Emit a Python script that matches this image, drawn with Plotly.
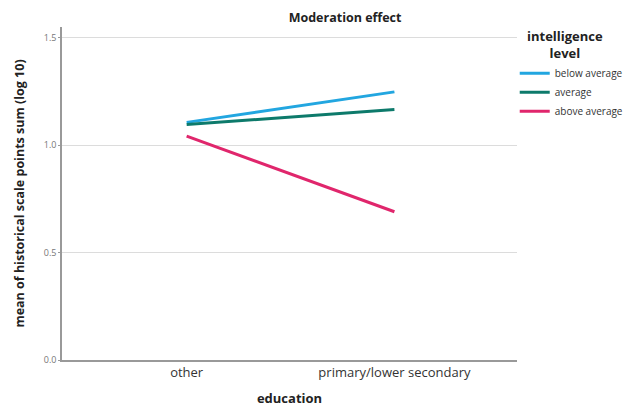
import plotly.graph_objects as go

categories = ["other", "primary/lower secondary"]
series_names = ["below average", "average", "above average"]
below_average = [1.106, 1.248]
average = [1.096, 1.166]
above_average = [1.042, 0.690]
y_ticks = [0.0, 0.5, 1.0, 1.5]
y_tick_labels = ["0.0", "0.5", "1.0", "1.5"]
legend_title = "intelligence<br>level"

colors = ["#22a6e0", "#0d7a6b", "#e0266c"]
values = [below_average, average, above_average]

fig = go.Figure()
for name, vals, c in zip(series_names, values, colors):
    fig.add_trace(go.Scatter(x=[0, 1], y=vals, mode="lines", name=name,
                             line=dict(color=c, width=3)))

font_family = "Open Sans, sans-serif"
fig.update_layout(
    width=632, height=408,
    margin=dict(l=62, r=115, t=27, b=48, autoexpand=False),
    paper_bgcolor="white", plot_bgcolor="white",
    font=dict(family=font_family, color="#222"),
    title=dict(text="<b>Moderation effect</b>", x=0.546, xanchor="center",
               y=0.958, yanchor="middle", font=dict(size=12.5, color="#222")),
    showlegend=True,
    legend=dict(x=0.995, xanchor="left", y=0.905, yanchor="top",
                font=dict(size=10, color="#333"),
                itemwidth=30, tracegroupgap=0, bgcolor="rgba(0,0,0,0)"),
    xaxis=dict(range=[-0.6, 1.59], tickvals=[0, 1], ticktext=categories,
               showgrid=False, zeroline=False, showline=True,
               linecolor="#999", linewidth=1.5, ticks="",
               tickfont=dict(size=13, color="#333"),
               title=dict(text="<b>education</b>", font=dict(size=13, color="#222"),
                          standoff=14)),
    yaxis=dict(range=[0, 1.55], tickvals=y_ticks, ticktext=y_tick_labels,
               showgrid=True, gridcolor="#dcdcdc", gridwidth=1,
               zeroline=False, showline=True, linecolor="#999", linewidth=1.5,
               ticks="outside", ticklen=2, tickcolor="#999",
               tickfont=dict(size=9, color="#777"),
               title=dict(text="<b>mean of historical scale points sum (log 10)</b>",
                          font=dict(size=12.5, color="#222"), standoff=16)),
    annotations=[dict(text="<b>" + legend_title + "</b>", xref="paper", yref="paper",
                      x=1.105, y=0.946, xanchor="center", yanchor="middle",
                      align="center", showarrow=False,
                      font=dict(size=13, color="#222"))],
)

fig.write_html("out.html")
